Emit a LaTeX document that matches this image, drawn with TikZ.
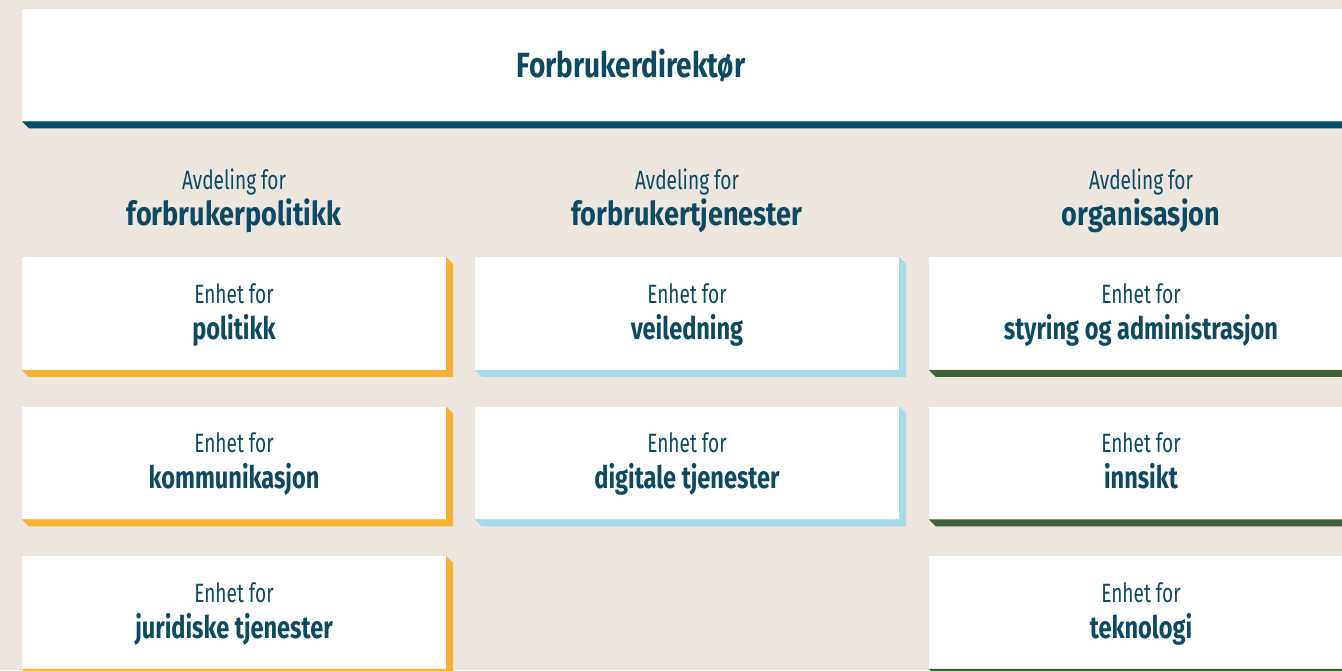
\documentclass[tikz,border=0pt]{standalone}
\usepackage{fontspec}
\setmainfont{Fira Sans}[FakeStretch=0.72]
\newfontfamily\fub{Fira Sans}[FakeStretch=0.76]
\newfontfamily\fhb{Fira Sans}[FakeStretch=0.82]
\newfontfamily\ftb{Fira Sans}[FakeStretch=0.80]
\definecolor{bg}{HTML}{EDE6DF}
\definecolor{navy}{HTML}{004E66}
\definecolor{ink}{HTML}{0C4A63}
\definecolor{cpol}{HTML}{F5B233}
\definecolor{ctje}{HTML}{A3DCE6}
\definecolor{corg}{HTML}{41613A}
\tikzset{
  unitbox/.style={rectangle, fill=white, inner sep=0pt, minimum width=424pt, minimum height=112.5pt, anchor=north},
  topbox/.style={rectangle, fill=white, inner sep=0pt, minimum width=1338pt, minimum height=112pt, anchor=north west},
  smalltxt/.style={text=ink, inner sep=0pt, anchor=base, font=\fontsize{26.5}{30}\selectfont},
  unittxt/.style={text=ink, inner sep=0pt, anchor=base, font=\fontsize{31}{34}\fub\bfseries},
  headtxt/.style={text=ink, inner sep=0pt, anchor=base, font=\fontsize{33}{36}\fhb\bfseries},
  titletxt/.style={text=ink, inner sep=0pt, anchor=base, font=\fontsize{35}{38}\ftb\bfseries},
}
\newcommand{\unitedge}[2]{\fill[#2] (#1.south west) -- ++(7,7) -- ([shift={(7,7)}]#1.south east) -- ([shift={(7,7)}]#1.north east) -- (#1.north east) -- (#1.south east) -- cycle;}
% #1 name, #2 x, #3 top y, #4 bold text, #5 colour
\newcommand{\orgunit}[5]{%
  \node[unitbox] (#1) at (#2,#3) {};
  \unitedge{#1}{#5}
  \node[smalltxt] (#1a) at ([shift={(0,46)}]#1.north) {Enhet for};
  \node[unittxt] (#1b) at ([shift={(0,82)}]#1.north) {#4};
}
\begin{document}
\begin{tikzpicture}[x=1pt,y=-1pt]
\clip (0,0) rectangle (1342,670);
\fill[bg] (0,0) rectangle (1342,670);
% top
\node[topbox] (top) at (22,9) {};
\fill[navy] (top.south west) -- ++(7,7) -- ([shift={(7,7)}]top.south east) -- (top.south east) -- cycle;
\node[titletxt] (title) at (631,77.5) {Forbrukerdirektør};
% headers
\node[smalltxt] (h1a) at (234,189) {Avdeling for};
\node[headtxt] (h1b) at (234,225) {forbrukerpolitikk};
\node[smalltxt] (h2a) at (687,189) {Avdeling for};
\node[headtxt] (h2b) at (687,225) {forbrukertjenester};
\node[smalltxt] (h3a) at (1141,189) {Avdeling for};
\node[headtxt] (h3b) at (1141,225) {organisasjon};
% column 1
\orgunit{p1}{234}{257}{politikk}{cpol}
\orgunit{p2}{234}{406.5}{kommunikasjon}{cpol}
\orgunit{p3}{234}{556}{juridiske tjenester}{cpol}
% column 2
\orgunit{t1}{687}{257}{veiledning}{ctje}
\orgunit{t2}{687}{406.5}{digitale tjenester}{ctje}
% column 3
\orgunit{o1}{1141}{257}{styring og administrasjon}{corg}
\orgunit{o2}{1141}{406.5}{innsikt}{corg}
\orgunit{o3}{1141}{556}{teknologi}{corg}
\end{tikzpicture}
\end{document}
